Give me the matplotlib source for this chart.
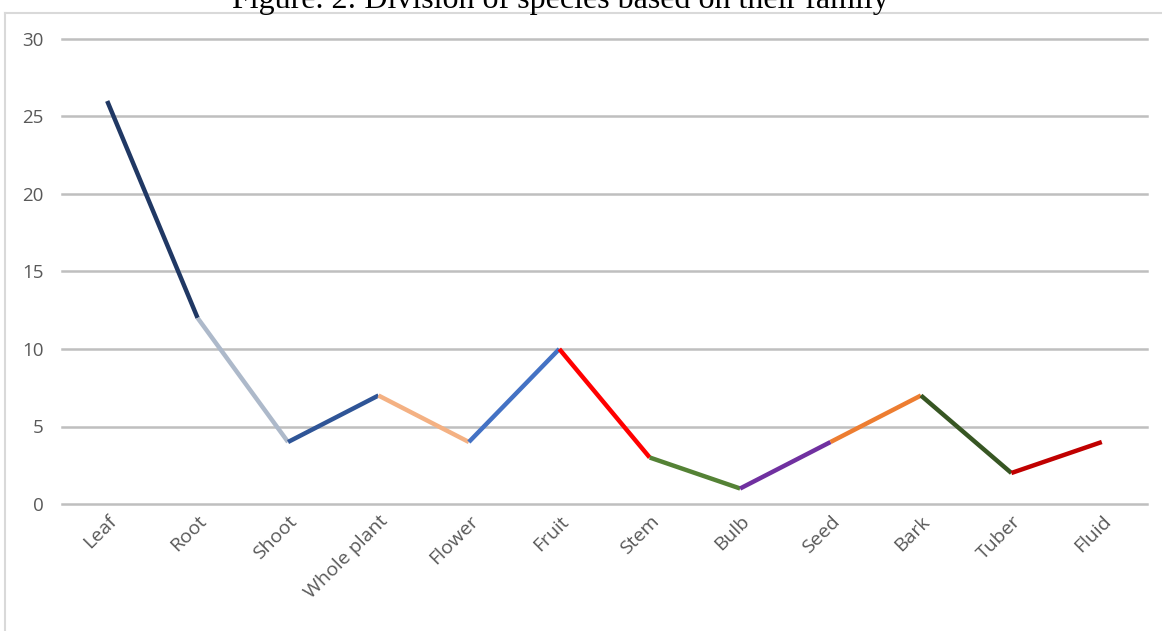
import matplotlib
matplotlib.use("Agg")
import matplotlib.pyplot as plt
from matplotlib.lines import Line2D

categories = ["Leaf", "Root", "Shoot", "Whole plant", "Flower", "Fruit",
              "Stem", "Bulb", "Seed", "Bark", "Tuber", "Fluid"]
counts = [26, 12, 4, 7, 4, 10, 3, 1, 4, 7, 2, 4]
# one colour per segment (from point i to point i+1)
segment_colors = ["#203864", "#ADB9CA", "#2F5597", "#F4B183", "#4472C4",
                  "#FF0000", "#548235", "#7030A0", "#ED7D31", "#375623",
                  "#C00000"]
y_ticks = [0, 5, 10, 15, 20, 25, 30]

fig = plt.figure(figsize=(11.62, 6.31), dpi=100)
ax = fig.add_axes([62 / 1162, 1 - 504 / 631, 1085 / 1162, 465 / 631])

x = list(range(len(categories)))
for i, col in enumerate(segment_colors):
    ax.plot(x[i:i + 2], counts[i:i + 2], color=col, linewidth=3.2,
            solid_capstyle="butt", zorder=3)

ax.set_xlim(-0.5, len(categories) - 0.5)
ax.set_ylim(0, 30)
ax.set_yticks(y_ticks)
ax.set_xticks(x)
ax.set_xticklabels(categories, rotation=45, ha="right", va="top",
                   rotation_mode="anchor")
ax.grid(axis="y", color="#BFBFBF", linewidth=1.8)
for gl in ax.get_ygridlines():
    gl.set_clip_on(False)
ax.set_axisbelow(True)
for s in ax.spines.values():
    s.set_visible(False)
ax.tick_params(axis="both", length=0, labelcolor="#595959")
ax.tick_params(axis="y", pad=13, labelsize=13.5)
ax.tick_params(axis="x", pad=6, labelsize=14)
for lab in ax.get_xticklabels() + ax.get_yticklabels():
    lab.set_fontfamily("Open Sans")

# chart frame (only top and left edges are visible in the crop)
fig.add_artist(Line2D([5 / 1162, 1], [1 - 12.5 / 631, 1 - 12.5 / 631],
                      transform=fig.transFigure, color="#D9D9D9", linewidth=1.5))
fig.add_artist(Line2D([5 / 1162, 5 / 1162], [0, 1 - 12.5 / 631],
                      transform=fig.transFigure, color="#D9D9D9", linewidth=1.5))

fig.text(0.482, 1 - 8 / 631, "Figure. 2: Division of species based on their family",
         ha="center", va="baseline", fontsize=23, family="Liberation Serif")

fig.savefig("out.png", dpi=100)
